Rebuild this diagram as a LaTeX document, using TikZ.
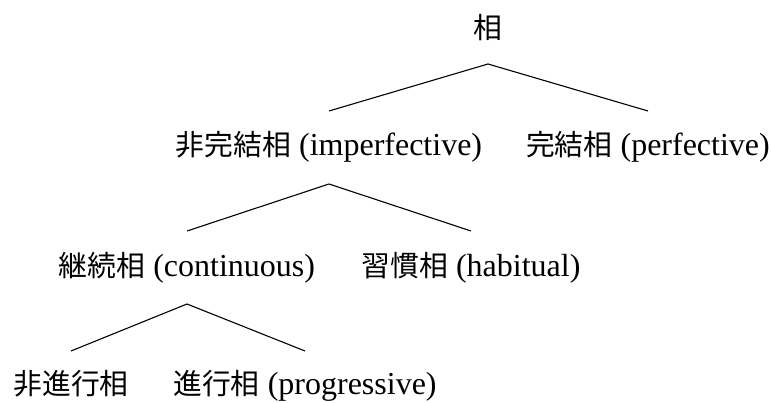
\documentclass[tikz,border=0pt]{standalone}
\usepackage{fontspec}
\setmainfont{Liberation Serif}
\newfontfamily\cjk[Scale=0.9]{Noto Sans CJK JP}
\begin{document}
\begin{tikzpicture}[x=1pt,y=-1pt,
  term/.style={inner sep=0pt, text height=24pt, text depth=6pt, anchor=center,
    font=\fontsize{32}{38}\selectfont},
  branch/.style={line width=1.1pt, line join=miter}]
\useasboundingbox (0,0) rectangle (771,403);
\node[term] (root) at (488,30) {{\cjk 相}};
\node[term] (imp) at (329,147) {{\cjk 非完結相} (imperfective)};
\node[term] (perf) at (648,147) {{\cjk 完結相} (perfective)};
\node[term] (cont) at (187,268) {{\cjk 継続相} (continuous)};
\node[term] (hab) at (471,268) {{\cjk 習慣相} (habitual)};
\node[term] (nonprog) at (71,385) {{\cjk 非進行相}};
\node[term] (prog) at (305,385) {{\cjk 進行相} (progressive)};
\draw[branch] ([yshift=36pt]imp.center) -- ([yshift=-34pt]root.center) -- ([yshift=36pt]perf.center);
\draw[branch] ([yshift=37pt]cont.center) -- ([yshift=-37pt]imp.center) -- ([yshift=37pt]hab.center);
\draw[branch] ([yshift=34pt]nonprog.center) -- ([yshift=-36pt]cont.center) -- ([yshift=34pt]prog.center);
\end{tikzpicture}
\end{document}
